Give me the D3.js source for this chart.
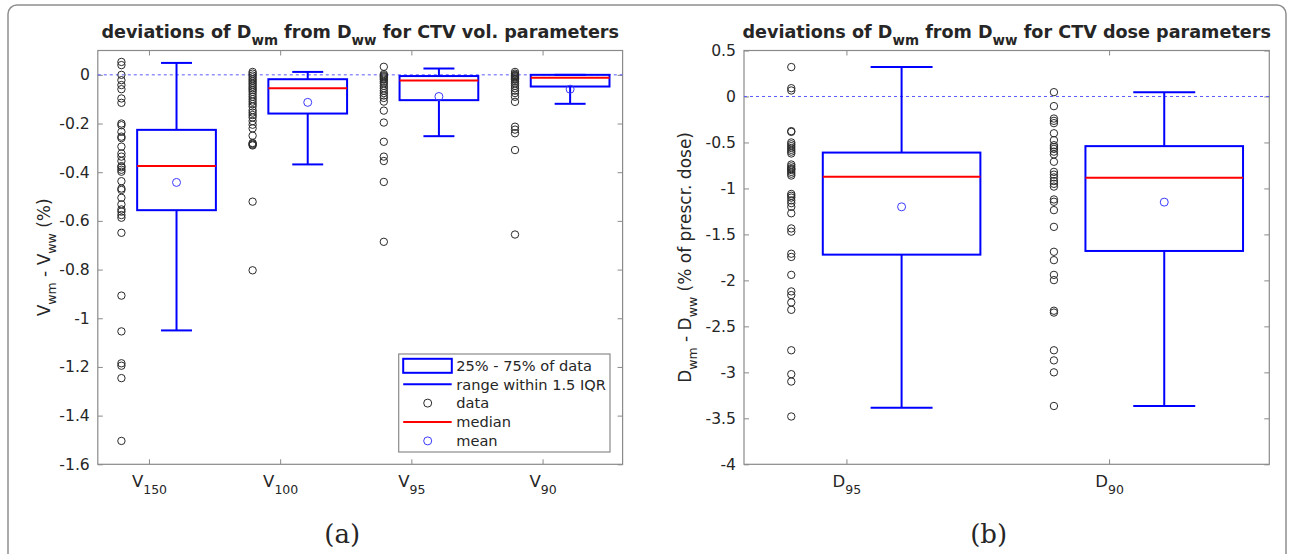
<!DOCTYPE html>
<html>
<head>
<meta charset="utf-8">
<script src="https://cdn.jsdelivr.net/npm/d3@7/dist/d3.min.js"></script>
<style>
  body { margin: 0; background: #fff; }
  svg { display: block; }
  text { font-family: "DejaVu Sans", sans-serif; fill: #262626; }
</style>
</head>
<body>
<svg id="canvas"></svg>
<script>
let width = 1294;
let height = 554;

// ---- panel (a): CTV volume parameters ----
let volCats = ["150", "100", "95", "90"];
let volTicks = [0, -0.2, -0.4, -0.6, -0.8, -1, -1.2, -1.4, -1.6];
let volHi   = [0.049, 0.012, 0.026, 0.0];
let volQ3   = [-0.226, -0.018, -0.005, 0.0];
let volMed  = [-0.374, -0.055, -0.023, -0.012];
let volMean = [-0.442, -0.113, -0.089, -0.059];
let volQ1   = [-0.556, -0.159, -0.104, -0.048];
let volLo   = [-1.05, -0.368, -0.252, -0.119];

let v150 = [0.053, 0.04, 0.0, -0.022, -0.042, -0.059, -0.097, -0.115, -0.2, -0.207, -0.234, -0.254,
            -0.26, -0.295, -0.323, -0.336, -0.354, -0.375, -0.38, -0.39, -0.398, -0.437, -0.467,
            -0.473, -0.505, -0.532, -0.553, -0.562, -0.576, -0.587, -0.649, -0.907, -1.054,
            -1.185, -1.195, -1.246, -1.504];
let v100 = [0.012, 0.005, -0.003, -0.01, -0.018, -0.025, -0.033, -0.04, -0.048, -0.055, -0.062,
            -0.07, -0.08, -0.09, -0.1, -0.11, -0.12, -0.13, -0.145, -0.155, -0.165, -0.175, -0.19,
            -0.205, -0.22, -0.25, -0.28, -0.283, -0.287, -0.29, -0.521, -0.803];
let v95  = [0.033, 0.003, -0.002, -0.006, -0.01, -0.015, -0.02, -0.028, -0.035, -0.045, -0.055,
            -0.065, -0.075, -0.085, -0.095, -0.11, -0.147, -0.196, -0.275, -0.336, -0.354, -0.44,
            -0.686];
let v90  = [0.012, 0.005, 0.0, -0.003, -0.006, -0.01, -0.015, -0.02, -0.027, -0.035, -0.045,
            -0.055, -0.065, -0.075, -0.09, -0.111, -0.213, -0.225, -0.24, -0.309, -0.656];

// ---- panel (b): CTV dose parameters ----
let doseCats = ["95", "90"];
let doseTicks = [0.5, 0, -0.5, -1, -1.5, -2, -2.5, -3, -3.5, -4];
let doseHi   = [0.32, 0.047];
let doseQ3   = [-0.61, -0.54];
let doseMed  = [-0.874, -0.885];
let doseMean = [-1.2, -1.149];
let doseQ1   = [-1.72, -1.68];
let doseLo   = [-3.385, -3.366];

let d95 = [0.32, 0.09, 0.065, -0.377, -0.385, -0.5, -0.52, -0.54, -0.56, -0.58, -0.6, -0.62, -0.74,
           -0.76, -0.78, -0.79, -0.8, -0.82, -0.84, -0.86, -1.06, -1.08, -1.1, -1.13, -1.16, -1.2,
           -1.27, -1.435, -1.47, -1.71, -1.745, -1.94, -2.12, -2.16, -2.24, -2.32, -2.76, -3.02,
           -3.1, -3.48];
let d90 = [0.047, -0.105, -0.24, -0.265, -0.29, -0.4, -0.475, -0.53, -0.55, -0.57, -0.6, -0.63,
           -0.71, -0.82, -0.85, -0.88, -0.92, -0.95, -0.98, -1.12, -1.145, -1.236, -1.418, -1.689,
           -1.78, -1.94, -1.997, -2.33, -2.35, -2.76, -2.87, -3.0, -3.366];

let legendLabels = ["25% - 75% of data", "range within 1.5 IQR", "data", "median", "mean"];

let canvas = d3.select("#canvas").attr("width", width).attr("height", height);

let blue = "#0000ff";
let red = "#ff0000";
let axisGray = "#8a8a8a";

// text with _{sub} parts
let richText = (sel, str, subSize, shift) => {
    let parts = str.split(/_\{([^}]*)\}/);
    let down = false;
    parts.forEach((s, i) => {
        if (s === "") { return; }
        let isSub = i % 2 === 1;
        let t = sel.append("tspan").text(s);
        if (isSub) {
            t.attr("font-size", subSize).attr("dy", shift);
            down = true;
        } else if (down) {
            t.attr("dy", -shift);
            down = false;
        }
    });
};

// outer frame of the figure
canvas.append("rect")
      .attr("x", 8).attr("y", 5)
      .attr("width", 1278).attr("height", 580)
      .attr("rx", 9)
      .attr("fill", "none")
      .attr("stroke", "#8f8f8f")
      .attr("stroke-width", 1.5);

let drawPanel = (p) => {
    let g = canvas.append("g");

    let xScale = d3.scaleLinear().domain(p.xDomain).range([p.left, p.right]);
    let yScale = d3.scaleLinear().domain(p.yDomain).range([p.bottom, p.top]);
    let xTicks = p.cats.map((c, i) => i + 1);

    let styleAxis = (a) => {
        a.select(".domain").remove();
        a.selectAll(".tick line").attr("stroke", axisGray);
        a.attr("font-family", null).attr("font-size", 15.6);
        a.selectAll(".tick text").attr("fill", "#262626");
    };

    g.append("g").attr("transform", `translate(${p.left},0)`)
     .call(d3.axisLeft(yScale).tickValues(p.yTicks).tickSize(-5).tickPadding(8)
             .tickFormat((d) => String(d)))
     .call(styleAxis);
    g.append("g").attr("transform", `translate(${p.right},0)`)
     .call(d3.axisRight(yScale).tickValues(p.yTicks).tickSize(-5).tickFormat(""))
     .call(styleAxis);
    g.append("g").attr("transform", `translate(0,${p.top})`)
     .call(d3.axisTop(xScale).tickValues(xTicks).tickSize(-5).tickFormat(""))
     .call(styleAxis);
    let xAxis = g.append("g").attr("transform", `translate(0,${p.bottom})`)
     .call(d3.axisBottom(xScale).tickValues(xTicks).tickSize(-5).tickFormat(""))
     .call(styleAxis);

    xAxis.selectAll(".tick")
         .append("text")
         .attr("y", 22.4)
         .attr("text-anchor", "middle")
         .attr("font-size", 16.5)
         .each(function (d) {
             richText(d3.select(this), p.prefix + "_{" + p.cats[d - 1] + "}", 12.5, 7.5);
         });

    g.append("rect")
     .attr("x", p.left).attr("y", p.top)
     .attr("width", p.right - p.left).attr("height", p.bottom - p.top)
     .attr("fill", "none").attr("stroke", axisGray).attr("stroke-width", 1.2);

    // zero reference line
    g.append("line")
     .attr("x1", p.left).attr("x2", p.right)
     .attr("y1", yScale(0)).attr("y2", yScale(0))
     .attr("stroke", "#5a5aff").attr("stroke-width", 1)
     .attr("stroke-dasharray", "3,3");

    // raw data
    p.data.forEach((vals, i) => {
        g.append("g").selectAll("circle")
         .data(vals)
         .enter()
         .append("circle")
         .attr("cx", xScale(i + 1 - 0.21))
         .attr("cy", (v) => yScale(v))
         .attr("r", 3.7)
         .attr("fill", "none")
         .attr("stroke", "#2a2a2a")
         .attr("stroke-width", 1);
    });

    // boxes
    let boxes = g.selectAll(".box")
                 .data(p.cats.map((c, i) => ({
                     pos: i + 1 + 0.21, hi: p.hi[i], q3: p.q3[i], med: p.med[i],
                     mean: p.mean[i], q1: p.q1[i], lo: p.lo[i]
                 })))
                 .enter()
                 .append("g")
                 .attr("class", "box");

    let half = 0.3;
    let cap = 0.118;

    boxes.append("line")
         .attr("x1", (d) => xScale(d.pos)).attr("x2", (d) => xScale(d.pos))
         .attr("y1", (d) => yScale(d.hi)).attr("y2", (d) => yScale(d.q3))
         .attr("stroke", blue).attr("stroke-width", 2);
    boxes.append("line")
         .attr("x1", (d) => xScale(d.pos)).attr("x2", (d) => xScale(d.pos))
         .attr("y1", (d) => yScale(d.q1)).attr("y2", (d) => yScale(d.lo))
         .attr("stroke", blue).attr("stroke-width", 2);
    boxes.append("line")
         .attr("x1", (d) => xScale(d.pos - cap)).attr("x2", (d) => xScale(d.pos + cap))
         .attr("y1", (d) => yScale(d.hi)).attr("y2", (d) => yScale(d.hi))
         .attr("stroke", blue).attr("stroke-width", 2);
    boxes.append("line")
         .attr("x1", (d) => xScale(d.pos - cap)).attr("x2", (d) => xScale(d.pos + cap))
         .attr("y1", (d) => yScale(d.lo)).attr("y2", (d) => yScale(d.lo))
         .attr("stroke", blue).attr("stroke-width", 2);
    boxes.append("rect")
         .attr("x", (d) => xScale(d.pos - half))
         .attr("width", (d) => xScale(d.pos + half) - xScale(d.pos - half))
         .attr("y", (d) => yScale(d.q3))
         .attr("height", (d) => Math.max(yScale(d.q1) - yScale(d.q3), 0.5))
         .attr("fill", "none").attr("stroke", blue).attr("stroke-width", 2);
    boxes.append("line")
         .attr("x1", (d) => xScale(d.pos - half)).attr("x2", (d) => xScale(d.pos + half))
         .attr("y1", (d) => yScale(d.med)).attr("y2", (d) => yScale(d.med))
         .attr("stroke", red).attr("stroke-width", 2);
    boxes.append("circle")
         .attr("cx", (d) => xScale(d.pos))
         .attr("cy", (d) => yScale(d.mean))
         .attr("r", 4)
         .attr("fill", "none").attr("stroke", "#3a3aff").attr("stroke-width", 1);

    // title
    let cx = (p.left + p.right) / 2;
    g.append("text")
     .attr("x", cx).attr("y", 38)
     .attr("text-anchor", "middle")
     .attr("font-weight", "bold")
     .attr("font-size", 17.6)
     .attr("fill", "#000")
     .call((t) => richText(t, p.title, 13.5, 7));

    // y label
    g.append("text")
     .attr("transform", `translate(${p.ylabelX},${(p.top + p.bottom) / 2}) rotate(-90)`)
     .attr("text-anchor", "middle")
     .attr("font-size", 17)
     .call((t) => richText(t, p.ylabel, 12.5, 6));

    // sub-figure letter
    g.append("text")
     .attr("x", cx - 18).attr("y", 543)
     .attr("text-anchor", "middle")
     .style("font-family", "'DejaVu Serif', serif")
     .attr("font-size", 26)
     .attr("fill", "#111")
     .text(p.letter);

    return { g: g, xScale: xScale, yScale: yScale };
};

let panelA = drawPanel({
    left: 97.8, right: 622.6, top: 50.5, bottom: 464.3,
    xDomain: [0.61, 4.61], yDomain: [-1.6, 0.1],
    yTicks: volTicks, cats: volCats, prefix: "V",
    hi: volHi, q3: volQ3, med: volMed, mean: volMean, q1: volQ1, lo: volLo,
    data: [v150, v100, v95, v90],
    title: "deviations of D_{wm} from D_{ww} for CTV vol. parameters",
    ylabel: "V_{wm} - V_{ww} (%)", ylabelX: 50, letter: "(a)"
});

drawPanel({
    left: 744, right: 1269.3, top: 50.5, bottom: 464.3,
    xDomain: [0.61, 2.61], yDomain: [-4, 0.5],
    yTicks: doseTicks, cats: doseCats, prefix: "D",
    hi: doseHi, q3: doseQ3, med: doseMed, mean: doseMean, q1: doseQ1, lo: doseLo,
    data: [d95, d90],
    title: "deviations of D_{wm} from D_{ww} for CTV dose parameters",
    ylabel: "D_{wm} - D_{ww} (% of prescr. dose)", ylabelX: 691, letter: "(b)"
});

// legend inside panel (a)
let legend = panelA.g.append("g").attr("transform", "translate(398.7,354)");
legend.append("rect")
      .attr("width", 211.3).attr("height", 98)
      .attr("fill", "#fff").attr("stroke", "#8a8a8a").attr("stroke-width", 1.2);

let rowY = (i) => 11.3 + i * 18.9;
let rows = legend.selectAll(".row")
                 .data(legendLabels)
                 .enter()
                 .append("g")
                 .attr("transform", (d, i) => `translate(0,${rowY(i)})`);

rows.append("text")
    .attr("x", 57.5).attr("y", 5.3)
    .attr("font-size", 14.6)
    .text((d) => d);

rows.each(function (d, i) {
    let r = d3.select(this);
    if (i === 0) {
        r.append("rect").attr("x", 4.5).attr("y", -6.5).attr("width", 48.6).attr("height", 14)
         .attr("fill", "none").attr("stroke", blue).attr("stroke-width", 2);
    } else if (i === 1 || i === 3) {
        r.append("line").attr("x1", 4.5).attr("x2", 53).attr("y1", 0).attr("y2", 0)
         .attr("stroke", i === 1 ? blue : red).attr("stroke-width", 2);
    } else {
        r.append("circle").attr("cx", 29).attr("cy", 0).attr("r", 4)
         .attr("fill", "none").attr("stroke", i === 2 ? "#2a2a2a" : "#3a3aff").attr("stroke-width", 1);
    }
});
</script>
</body>
</html>
